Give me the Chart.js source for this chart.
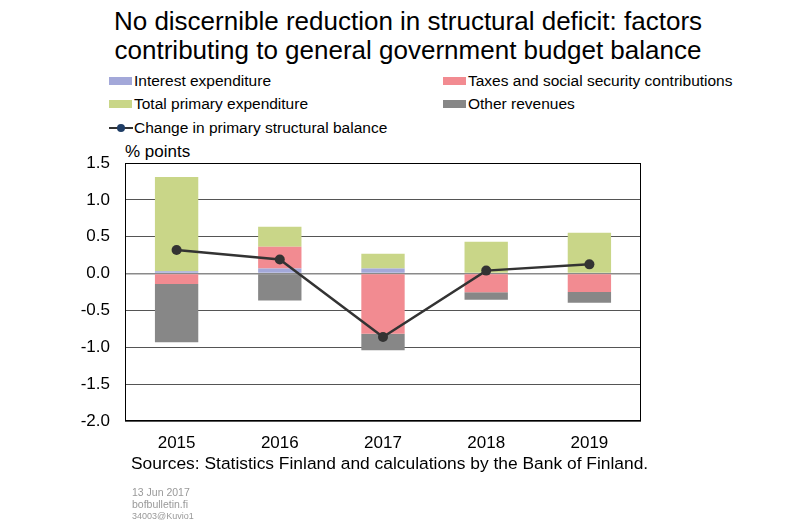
<!DOCTYPE html>
<html>
<head>
<meta charset="utf-8">
<script src="https://cdn.jsdelivr.net/npm/chart.js@4"></script>
<style>
  body { margin: 0; background: #fff; font-family: "Liberation Sans", Arial, sans-serif; }
  #wrap { position: relative; width: 800px; height: 522px; overflow: hidden; }
  #title { position: absolute; left: 0; width: 816px; top: 7px; text-align: center; font-size: 26px; line-height: 28.5px; color: #000; }
  .lg { position: absolute; font-size: 15.5px; color: #000; white-space: nowrap; line-height: 18px; }
  .sw { display: inline-block; width: 23px; height: 8px; vertical-align: middle; margin-right: 2px; position: relative; top: -1px; }
  #unit { position: absolute; left: 125px; top: 142px; font-size: 17px; }
  #src { position: absolute; left: 131px; top: 453px; font-size: 17.4px; }
  .ft { position: absolute; left: 132px; color: #999; font-size: 10.5px; line-height: 12px; }
  #chart { position: absolute; left: 0; top: 0; }
</style>
</head>
<body>
<div id="wrap">
  <div id="title">No discernible reduction in structural deficit: factors<br>contributing to general government budget balance</div>
  <div id="legend"></div>
  <div id="unit">% points</div>
  <canvas id="chart" width="800" height="522"></canvas>
  <div id="src">Sources: Statistics Finland and calculations by the Bank of Finland.</div>
  <div class="ft" style="top:486px">13 Jun 2017</div>
  <div class="ft" style="top:498px">bofbulletin.fi</div>
  <div class="ft" style="top:510px;font-size:9px">34003@Kuvio1</div>
</div>
<script>
// ==================== DATOS ====================
const years = ['2015', '2016', '2017', '2018', '2019'];
const interestExpenditure = [0.03, 0.07, 0.07, 0.0, 0.0];
const taxesContributions = [-0.14, 0.295, -0.815, -0.255, -0.25];
const primaryExpenditure = [1.28, 0.27, 0.2, 0.43, 0.555];
const otherRevenues = [-0.79, -0.365, -0.225, -0.1, -0.145];
const primaryBalanceChange = [0.32, 0.19, -0.86, 0.04, 0.125];
const yTicks = [-2.0, -1.5, -1.0, -0.5, 0.0, 0.5, 1.0, 1.5];

const colors = {
    interest: '#a3a8d9',
    taxes: '#f28b91',
    primary: '#c9d688',
    other: '#878787',
    line: '#333333',
    legendDot: '#1f3d66'
};

// ==================== LEYENDA ====================
const legendItems = [
    { label: 'Interest expenditure', color: colors.interest, x: 109, y: 72 },
    { label: 'Taxes and social security contributions', color: colors.taxes, x: 443, y: 72 },
    { label: 'Total primary expenditure', color: colors.primary, x: 109, y: 95 },
    { label: 'Other revenues', color: colors.other, x: 443, y: 95 },
    { label: 'Change in primary structural balance', line: true, x: 109, y: 119 }
];

document.getElementById('legend').innerHTML = legendItems.map(item => {
    const mark = item.line
        ? `<svg width="24" height="10" style="vertical-align:middle;margin-right:1px;position:relative;top:-1px"><line x1="0" y1="5" x2="24" y2="5" stroke="${colors.line}" stroke-width="2"/><circle cx="12" cy="5" r="4" fill="${colors.legendDot}"/></svg>`
        : `<span class="sw" style="background:${item.color}"></span>`;
    return `<div class="lg" style="left:${item.x}px;top:${item.y}px">${mark}${item.label}</div>`;
}).join('');

// ==================== GRÁFICO ====================
const frame = {
    id: 'frame',
    afterDraw(chart) {
        const { ctx, chartArea: a } = chart;
        ctx.save();
        ctx.strokeStyle = '#000';
        ctx.lineWidth = 1;
        ctx.strokeRect(a.left + 0.5, a.top + 0.5, a.right - a.left - 1, a.bottom - a.top - 1);
        ctx.restore();
    }
};

const barCommon = { type: 'bar', barPercentage: 0.84, categoryPercentage: 0.5, order: 2, stack: 'bars' };

new Chart(document.getElementById('chart'), {
    data: {
        labels: years,
        datasets: [
            { ...barCommon, label: 'Interest expenditure', data: interestExpenditure, backgroundColor: colors.interest },
            { ...barCommon, label: 'Taxes and social security contributions', data: taxesContributions, backgroundColor: colors.taxes },
            { ...barCommon, label: 'Total primary expenditure', data: primaryExpenditure, backgroundColor: colors.primary },
            { ...barCommon, label: 'Other revenues', data: otherRevenues, backgroundColor: colors.other },
            {
                type: 'line', label: 'Change in primary structural balance', data: primaryBalanceChange,
                borderColor: colors.line, backgroundColor: colors.line, borderWidth: 2.5,
                pointRadius: 5, pointBackgroundColor: colors.line, pointBorderWidth: 0,
                order: 1, stack: 'line'
            }
        ]
    },
    options: {
        responsive: false,
        animation: false,
        layout: { padding: { left: 0, right: 159, top: 163, bottom: 0 } },
        plugins: { legend: { display: false }, tooltip: { enabled: false } },
        scales: {
            x: {
                stacked: true,
                grid: { display: false, drawTicks: false },
                border: { display: false },
                ticks: { padding: 12, color: '#000', font: { family: 'Liberation Sans', size: 17 } },
                afterFit: s => { s.height = 101; }
            },
            y: {
                stacked: true,
                min: -2, max: 1.5,
                afterBuildTicks: s => { s.ticks = yTicks.map(v => ({ value: v })); },
                grid: {
                    color: ctx => ctx.tick && ctx.tick.value === 0 ? '#8a8a8a' : '#555',
                    lineWidth: ctx => ctx.tick && ctx.tick.value === 0 ? 1.5 : 1,
                    drawTicks: false
                },
                border: { display: false },
                ticks: {
                    padding: 15, color: '#000',
                    font: { family: 'Liberation Sans', size: 17 },
                    callback: v => v.toFixed(1)
                },
                afterFit: s => { s.width = 125; }
            }
        }
    },
    plugins: [frame]
});
</script>
</body>
</html>
